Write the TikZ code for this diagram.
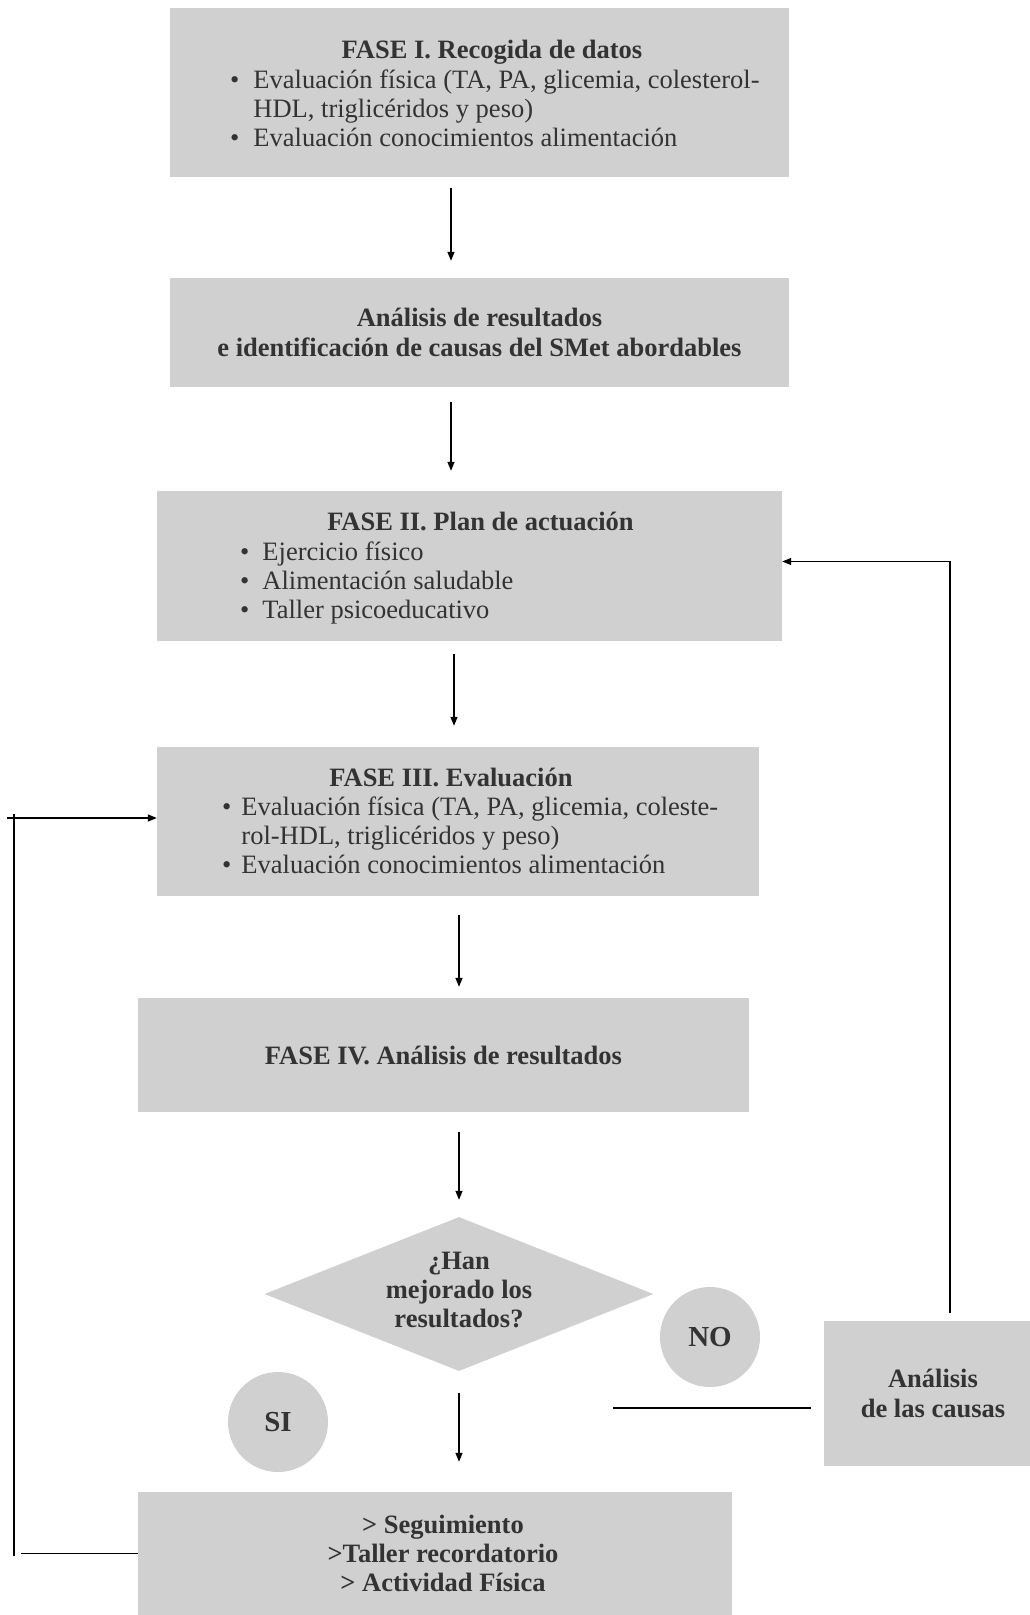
\documentclass[tikz,border=0pt]{standalone}
\usepackage{fontspec}
\setmainfont{Liberation Serif}
\usetikzlibrary{shapes.geometric,arrows.meta}
\definecolor{boxgray}{RGB}{208,208,208}
\definecolor{inkgray}{RGB}{51,51,51}
\newcommand{\fasefont}{\fontsize{26.5}{29.4}\selectfont}

\begin{document}
\begin{tikzpicture}[x=1pt, y=-1pt,
    every node/.style={inner sep=0pt, font=\fasefont, text=inkgray},
    caja/.style={fill=boxgray, align=center},
    titulo/.style={anchor=base, font=\fasefont\bfseries},
    lista/.style={anchor=base west, align=left},
    flecha/.style={-{Triangle[length=9pt,width=7pt]}, line width=1.3pt},
    linea/.style={line width=1.3pt}]
    \useasboundingbox (0,0) rectangle (1029,1615);

    % FASE I
    \node[caja, minimum width=619pt, minimum height=169pt] (f1) at (479.5,92.5) {};
    \node[titulo] (f1t) at (492,58) {FASE I. Recogida de datos};
    \node[lista] (f1l) at (230,88) {\begin{tabular}[t]{@{}l@{\hspace{14pt}}l@{}}
        \textbullet & Evaluación física (TA, PA, glicemia, colesterol-\\
                    & HDL, triglicéridos y peso)\\
        \textbullet & Evaluación conocimientos alimentación
    \end{tabular}};

    % Analisis de resultados
    \node[caja, font=\fasefont\bfseries, minimum width=619pt, minimum height=109pt] (f2) at (479.5,332.5)
        {Análisis de resultados\\e identificación de causas del SMet abordables};

    % FASE II
    \node[caja, minimum width=625pt, minimum height=150pt] (f3) at (469.5,566) {};
    \node[titulo] (f3t) at (480.5,530) {FASE II. Plan de actuación};
    \node[lista] (f3l) at (240,560) {\begin{tabular}[t]{@{}l@{\hspace{13pt}}l@{}}
        \textbullet & Ejercicio físico\\
        \textbullet & Alimentación saludable\\
        \textbullet & Taller psicoeducativo
    \end{tabular}};

    % FASE III
    \node[caja, minimum width=602pt, minimum height=149pt] (f4) at (458,821.5) {};
    \node[titulo] (f4t) at (451,786) {FASE III. Evaluación};
    \node[lista] (f4l) at (222,815) {\begin{tabular}[t]{@{}l@{\hspace{10pt}}l@{}}
        \textbullet & Evaluación física (TA, PA, glicemia, coleste-\\
                    & rol-HDL, triglicéridos y peso)\\
        \textbullet & Evaluación conocimientos alimentación
    \end{tabular}};

    % FASE IV
    \node[caja, font=\fasefont\bfseries, minimum width=611pt, minimum height=114pt] (f5) at (443.5,1055)
        {FASE IV. Análisis de resultados};

    % Decision
    \node[caja, diamond, aspect=2.5, minimum width=389pt, minimum height=154pt] (d) at (459,1294) {};
    \node[font=\fasefont\bfseries, align=center] (dt) at (459,1290) {¿Han\\mejorado los\\resultados?};
    \node[caja, circle, font=\fontsize{29}{32}\selectfont\bfseries, minimum size=100pt] (no) at (710,1337) {NO};
    \node[caja, circle, font=\fontsize{29}{32}\selectfont\bfseries, minimum size=100pt] (si) at (278,1422) {SI};
    \node[caja, font=\fasefont\bfseries, minimum width=218pt, minimum height=145pt] (causas) at (933,1393.5)
        {Análisis\\de las causas};

    % Seguimiento
    \node[caja, minimum width=594pt, minimum height=123pt] (f6) at (435,1553.5) {};
    \node[font=\fasefont\bfseries, align=center] (f6t) at (443,1553.5)
        {> Seguimiento\\>Taller recordatorio\\> Actividad Física};

    % Flechas verticales
    \foreach \a/\b/\x/\s/\t in {f1/f2/451/11/17, f2/f3/451/15/20, f3/f4/454/13/21,
                                f4/f5/459/19/11, f5/d/459/20/17, d/f6/459/22/30} {
        \coordinate (col) at (\x,0);
        \draw[flecha, shorten <=\s, shorten >=\t] (\a.south -| col) -- (\b.north -| col);
    }

    % Vuelta de las causas a la FASE II
    \coordinate (rc) at (950,0);
    \draw[flecha, shorten <=8] (causas.north -| rc) |- ([yshift=4.5pt]f3.east);
    \coordinate (nl) at (613,1408);
    \draw[linea, shorten >=13] (nl) -- (causas.west |- nl);

    % Vuelta del seguimiento a la FASE III
    \coordinate (lc) at (14,0);
    \draw[linea] (f6.west) -- ([xshift=7pt]f6.west -| lc);
    \draw[linea] ([yshift=-2.5pt]f6.west -| lc) -- ([yshift=7.5pt]f4.west -| lc);
    \draw[flecha] ([xshift=-7pt,yshift=3.5pt]f4.west -| lc) -- ([yshift=3.5pt]f4.west);
\end{tikzpicture}
\end{document}
